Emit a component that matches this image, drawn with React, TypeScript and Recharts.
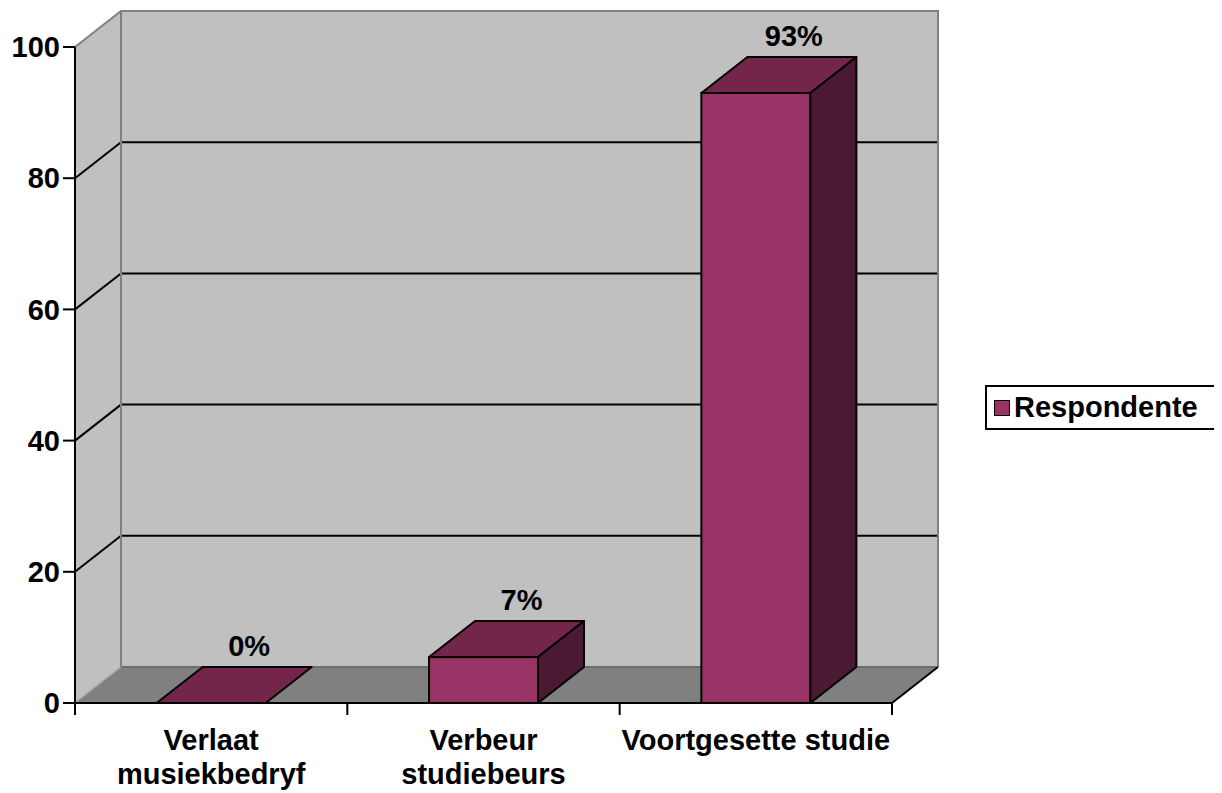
import { BarChart, Bar, XAxis, YAxis, ReferenceArea, Legend } from "recharts";

const categories = ["Verlaat musiekbedryf", "Verbeur studiebeurs", "Voortgesette studie"];
const tickLines = [["Verlaat", "musiekbedryf"], ["Verbeur", "studiebeurs"], ["Voortgesette studie"]];
const respondente = [0, 7, 93];
const yTicks = [0, 20, 40, 60, 80, 100];

const data = categories.map((name, i) => ({ name, value: respondente[i] }));

// 3D depth offset (Excel-style)
const DX = 46;
const DY = -36;
const FONT = "'Liberation Sans', Arial, sans-serif";
const FS = 29;

function Backdrop(props: any) {
  const { x, y, width, height } = props;
  const bottom = y + height;
  const right = x + width;
  const yOf = (v: number) => bottom - (v / 100) * height;
  const n = categories.length;
  return (
    <g>
      {/* left wall */}
      <polygon
        points={`${x},${bottom} ${x},${y} ${x + DX},${y + DY} ${x + DX},${bottom + DY}`}
        fill="#c0c0c0"
      />
      {/* back wall */}
      <rect x={x + DX} y={y + DY} width={width} height={height} fill="#c0c0c0" />
      {/* floor */}
      <polygon
        points={`${x},${bottom} ${right},${bottom} ${right + DX},${bottom + DY} ${x + DX},${bottom + DY}`}
        fill="#808080"
      />
      {yTicks
        .filter((v) => v > 0 && v < 100)
        .map((v) => (
          <polyline
            key={v}
            points={`${x},${yOf(v)} ${x + DX},${yOf(v) + DY} ${right + DX},${yOf(v) + DY}`}
            fill="none"
            stroke="#000"
            strokeWidth={2}
          />
        ))}
      {/* gray borders */}
      <polyline
        points={`${x},${y} ${x + DX},${y + DY} ${right + DX},${y + DY} ${right + DX},${bottom + DY}`}
        fill="none"
        stroke="#808080"
        strokeWidth={2}
      />
      <line x1={x + DX} y1={y + DY} x2={x + DX} y2={bottom + DY} stroke="#808080" strokeWidth={2} />
      <line x1={x + DX} y1={bottom + DY} x2={right + DX} y2={bottom + DY} stroke="#6e6e6e" strokeWidth={2} />
      <line x1={x} y1={bottom} x2={x + DX} y2={bottom + DY} stroke="#a0a0a0" strokeWidth={1.5} />
      <line x1={right} y1={bottom} x2={right + DX} y2={bottom + DY} stroke="#000" strokeWidth={2} />
      {/* category boundary ticks */}
      {Array.from({ length: n + 1 }).map((_, i) => (
        <line
          key={i}
          x1={x + (width * i) / n}
          y1={bottom}
          x2={x + (width * i) / n}
          y2={bottom + 12}
          stroke="#000"
          strokeWidth={2}
        />
      ))}
    </g>
  );
}

function Box3D(props: any) {
  const { x, y, width, height, value } = props;
  const h = Math.max(0, height);
  return (
    <g>
      {h > 0 && (
        <rect x={x} y={y} width={width} height={h} fill="#993366" stroke="#000" strokeWidth={2} />
      )}
      <polygon
        points={`${x},${y} ${x + DX},${y + DY} ${x + width + DX},${y + DY} ${x + width},${y}`}
        fill="#732649"
        stroke="#000"
        strokeWidth={2}
        strokeLinejoin="round"
      />
      {h > 0 && (
        <polygon
          points={`${x + width},${y} ${x + width + DX},${y + DY} ${x + width + DX},${y + h + DY} ${x + width},${y + h}`}
          fill="#4c1933"
          stroke="#000"
          strokeWidth={2}
          strokeLinejoin="round"
        />
      )}
      <text
        x={x + width / 2 + 38}
        y={y + DY - 11}
        textAnchor="middle"
        fontFamily={FONT}
        fontWeight="bold"
        fontSize={FS}
        fill="#000"
      >
        {`${value}%`}
      </text>
    </g>
  );
}

function CategoryTick(props: any) {
  const { x, y, index } = props;
  const lines = tickLines[index] || [];
  return (
    <g>
      {lines.map((line, i) => (
        <text
          key={i}
          x={x}
          y={y + 39 + i * 34}
          textAnchor="middle"
          fontFamily={FONT}
          fontWeight="bold"
          fontSize={FS}
          fill="#000"
        >
          {line}
        </text>
      ))}
    </g>
  );
}

function LegendBox(props: any) {
  const { payload } = props;
  return (
    <div
      style={{
        border: "2px solid #000",
        background: "#fff",
        width: 229,
        minWidth: 229,
        height: 41,
        boxSizing: "content-box",
        display: "flex",
        flexShrink: 0,
        alignItems: "center",
        fontFamily: FONT,
        fontWeight: "bold",
        fontSize: FS,
      }}
    >
      {(payload || []).map((p: any) => (
        <div key={p.value} style={{ display: "flex", alignItems: "center", marginLeft: 7 }}>
          <span
            style={{
              display: "inline-block",
              width: 14,
              height: 14,
              background: "#993366",
              border: "1px solid #000",
              marginRight: 4,
            }}
          />
          <span>{p.value}</span>
        </div>
      ))}
    </div>
  );
}

export default function App() {
  return (
    <BarChart
      width={1214}
      height={785}
      data={data}
      margin={{ top: 39, right: 330, bottom: 0, left: 0 }}
      barCategoryGap="30%"
    >
      <ReferenceArea y1={0} y2={100} shape={Backdrop} ifOverflow="visible" />
      <XAxis
        dataKey="name"
        height={90}
        tickLine={false}
        axisLine={{ stroke: "#000", strokeWidth: 2 }}
        tick={CategoryTick}
        interval={0}
      />
      <YAxis
        width={67}
        domain={[0, 100]}
        ticks={yTicks}
        tickSize={12}
        tickMargin={3}
        axisLine={{ stroke: "#000", strokeWidth: 2 }}
        tickLine={{ stroke: "#000", strokeWidth: 2 }}
        tick={{ fill: "#000", fontFamily: FONT, fontWeight: "bold", fontSize: FS }}
      />
      <Bar
        dataKey="value"
        name="Respondente"
        fill="#993366"
        shape={Box3D}
        isAnimationActive={false}
      />
      <Legend
        layout="vertical"
        align="center"
        verticalAlign="middle"
        content={LegendBox}
        wrapperStyle={{ left: 977, top: 377, width: 237 }}
      />
    </BarChart>
  );
}
